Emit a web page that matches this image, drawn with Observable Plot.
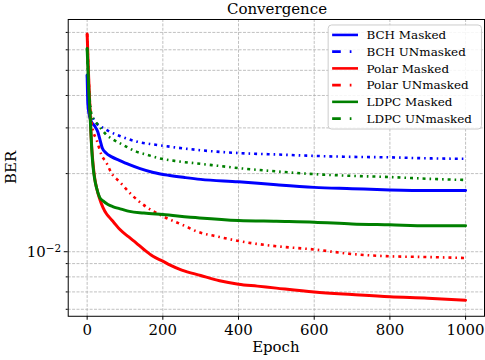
<!DOCTYPE html>
<html><head><meta charset="utf-8">
<script src="https://cdn.jsdelivr.net/npm/d3@7"></script>
<script src="https://cdn.jsdelivr.net/npm/@observablehq/plot@0.6"></script>
<style>
body{margin:0;background:#fff;overflow:hidden}
#wrap{width:485px;height:360px;overflow:hidden;position:relative;background:#fff}
#title{height:18px;width:418px;padding-left:68px;text-align:center;font-family:"DejaVu Serif";font-size:15px;line-height:18px;color:#000;white-space:nowrap}
#wrap svg{display:block;font-family:"DejaVu Serif" !important;font-size:15px !important}
#wrap svg text{font-family:"DejaVu Serif" !important}
</style></head><body><div id="wrap"><div id="title">Convergence</div></div>
<script>
// ---- data ----
const bchMaskedEpoch = [0, 2, 5, 10, 20, 28, 34, 40, 50, 65, 85, 110, 140, 175, 215, 260, 300, 400, 500, 600, 700, 800, 900, 1000];
const bchMaskedBer   = [0.048, 0.037, 0.034, 0.032, 0.0305, 0.029, 0.027, 0.0251, 0.0240, 0.0232, 0.0225, 0.0217, 0.0209, 0.0202, 0.0197, 0.0193, 0.0190, 0.0186, 0.0181, 0.0177, 0.0175, 0.0173, 0.0172, 0.0172];

const bchUnmaskedEpoch = [0, 5, 15, 25, 42, 60, 90, 130, 175, 218, 288, 400, 500, 600, 700, 800, 900, 1000];
const bchUnmaskedBer   = [0.048, 0.0346, 0.0328, 0.0312, 0.0300, 0.0290, 0.0278, 0.0266, 0.0259, 0.0254, 0.0247, 0.0240, 0.0237, 0.0234, 0.0232, 0.0231, 0.0229, 0.0228];

const polarMaskedEpoch = [0, 4, 8, 12, 16, 20, 25, 33, 42, 51, 60, 70, 86, 110, 130, 150, 174, 200, 218, 250, 300, 350, 400, 450, 500, 600, 700, 800, 900, 1000];
const polarMaskedBer   = [0.069, 0.047, 0.034, 0.0255, 0.0215, 0.0192, 0.0176, 0.0160, 0.0148, 0.0140, 0.0135, 0.0130, 0.0122, 0.0114, 0.0108, 0.0102, 0.0096, 0.0092, 0.0089, 0.0085, 0.0081, 0.00773, 0.0075, 0.00737, 0.00724, 0.0070, 0.00684, 0.0067, 0.00662, 0.0065];

const polarUnmaskedEpoch = [0, 4, 8, 14, 25, 38, 51, 64, 86, 117, 156, 200, 262, 288, 350, 400, 500, 600, 700, 800, 900, 1000];
const polarUnmaskedBer   = [0.069, 0.047, 0.036, 0.030, 0.027, 0.0236, 0.0220, 0.0201, 0.0186, 0.0166, 0.0149, 0.0137, 0.0125, 0.0120, 0.0114, 0.0110, 0.0105, 0.0102, 0.0098, 0.0096, 0.00954, 0.00946];

const ldpcMaskedEpoch = [0, 4, 8, 12, 16, 20, 25, 33, 42, 55, 69, 90, 112, 150, 200, 297, 400, 500, 600, 700, 800, 900, 1000];
const ldpcMaskedBer   = [0.0607, 0.043, 0.033, 0.025, 0.0210, 0.0190, 0.0176, 0.0162, 0.0157, 0.0152, 0.0149, 0.0146, 0.0143, 0.0141, 0.0139, 0.0135, 0.0132, 0.0131, 0.0130, 0.0128, 0.0127, 0.0126, 0.0126];

const ldpcUnmaskedEpoch = [0, 4, 8, 11, 20, 29, 51, 70, 95, 130, 160, 191, 240, 288, 350, 400, 500, 600, 700, 800, 900, 1000];
const ldpcUnmaskedBer   = [0.0607, 0.043, 0.037, 0.0341, 0.0320, 0.0308, 0.0282, 0.0270, 0.0258, 0.0243, 0.0236, 0.0229, 0.0223, 0.0219, 0.0214, 0.0210, 0.0204, 0.0199, 0.0196, 0.0194, 0.0191, 0.0189];

const seriesNames = ["BCH Masked", "BCH UNmasked", "Polar Masked", "Polar UNmasked", "LDPC Masked", "LDPC UNmasked"];
const seriesColors = ["#0000ff", "#0000ff", "#ff0000", "#ff0000", "#008000", "#008000"];
const seriesDashed = [false, true, false, true, false, true];

const xTicks = [0, 200, 400, 600, 800, 1000];
const yMajorTicks = [0.01];
const yMinorTicks = [0.006, 0.007, 0.008, 0.009, 0.02, 0.03, 0.04, 0.05, 0.06, 0.07];
const yTickLabelBase = "10";
const yTickLabelExp = "\u22122";

// ---- build ----
const epochArrays = [bchMaskedEpoch, bchUnmaskedEpoch, polarMaskedEpoch, polarUnmaskedEpoch, ldpcMaskedEpoch, ldpcUnmaskedEpoch];
const berArrays = [bchMaskedBer, bchUnmaskedBer, polarMaskedBer, polarUnmaskedBer, ldpcMaskedBer, ldpcUnmaskedBer];

const dataDash = "3,4,1.6,4";
const legendDash = "8.7,9,1.7,9";

const lineMarks = seriesNames.map((name, i) => {
  const rows = epochArrays[i].map((e, j) => ({epoch: e, ber: berArrays[i][j]}));
  return Plot.line(rows, {
    x: "epoch", y: "ber", stroke: seriesColors[i],
    strokeWidth: seriesDashed[i] ? 2.6 : 3,
    strokeDasharray: seriesDashed[i] ? dataDash : null,
    strokeLinecap: seriesDashed[i] ? "butt" : "round",
    curve: "monotone-x"
  });
});

const gridStyle = {stroke: "#b0b0b0", strokeOpacity: 1, strokeWidth: 0.8, strokeDasharray: "3,1.4"};

const chart = Plot.plot({
  width: 487, height: 342,
  marginLeft: 68, marginRight: 1, marginTop: 1, marginBottom: 43,
  style: {fontFamily: "DejaVu Serif", fontSize: "15px", color: "#000", background: "#fff", overflow: "visible"},
  x: {domain: [-50, 1050]},
  y: {type: "log", domain: [0.00564, 0.0785]},
  marks: [
    Plot.gridX(xTicks, gridStyle),
    Plot.gridY([...yMajorTicks, ...yMinorTicks], gridStyle),
    ...lineMarks,
    Plot.axisX(xTicks, {tickSize: 4, tickPadding: 4, label: null, tickFormat: d => String(d), stroke: "#000"}),
    Plot.axisY(yMajorTicks, {tickSize: 4, tickPadding: 3, label: null, tickFormat: () => yTickLabelBase, stroke: "#000"}),
    Plot.axisY(yMinorTicks, {tickSize: 2, label: null, tickFormat: () => "", stroke: "#000"}),
    Plot.frame({stroke: "#000", strokeWidth: 1})
  ]
});

document.getElementById("wrap").appendChild(chart);
const svg = d3.select(chart);

// superscript exponent on the y tick label
svg.selectAll('g[aria-label="y-axis tick label"] text').each(function() {
  const t = d3.select(this);
  if (t.text() === yTickLabelBase) {
    t.append("tspan").attr("dy", "-0.45em").attr("font-size", "10.5px").text(yTickLabelExp);
  }
});

// axis titles
svg.append("text").attr("x", 277).attr("y", 335).attr("text-anchor", "middle")
  .attr("font-size", "15px").attr("fill", "#000").text("Epoch");
svg.append("text").attr("transform", "translate(16.5,150) rotate(-90)").attr("text-anchor", "middle")
  .attr("font-size", "15px").attr("fill", "#000").text("BER");

// legend
const lg = svg.append("g").attr("transform", "translate(329.5,7)");
lg.append("rect").attr("x", 0).attr("y", 0).attr("width", 154).attr("height", 104.5)
  .attr("rx", 3.5).attr("fill", "#fff").attr("fill-opacity", 0.85).attr("stroke", "#cccccc").attr("stroke-width", 1);
seriesNames.forEach((name, i) => {
  const cy = 10 + i * 16.8;
  lg.append("line").attr("x1", 4).attr("x2", 30).attr("y1", cy).attr("y2", cy)
    .attr("stroke", seriesColors[i]).attr("stroke-width", 2.6)
    .attr("stroke-dasharray", seriesDashed[i] ? legendDash : null);
  lg.append("text").attr("x", 38.5).attr("y", cy + 4.3).attr("text-anchor", "start")
    .attr("style", "font-size:12px").attr("fill", "#000").text(name);
});
</script></body></html>
